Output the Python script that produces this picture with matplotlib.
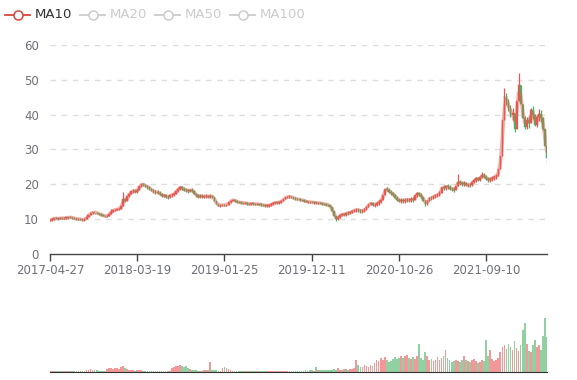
import matplotlib
matplotlib.use('Agg')
import matplotlib.pyplot as plt
import numpy as np
import pandas as pd

# weekly closes (about 5 trading days per entry)
close = [
    9.8, 10.0, 10.3, 10.2, 10.1, 10.4, 10.2, 10.3, 10.5, 10.4,
    10.6, 10.3, 10.2, 10.0, 10.1, 9.9, 9.8, 10.0, 10.6, 11.2,
    11.8, 12.0, 11.9, 11.7, 11.5, 11.2, 11.0, 10.8, 11.0, 11.5,
    12.2, 12.6, 12.7, 12.9, 13.0, 13.8, 15.8, 15.2, 16.6, 17.3,
    18.0, 18.2, 17.9, 18.4, 19.4, 20.1, 19.8, 19.5, 19.2, 18.7,
    18.3, 17.8, 17.9, 17.5, 17.3, 16.6, 17.0, 16.4, 16.3, 16.8,
    17.0, 17.3, 18.0, 18.8, 19.3, 18.7, 18.4, 18.3, 18.1, 18.4,
    18.2, 17.3, 16.8, 16.5, 16.7, 16.4, 16.6, 16.6, 16.4, 16.7,
    16.3, 15.2, 14.3, 13.9, 14.0, 14.1, 14.0, 14.2, 14.8, 15.3,
    15.6, 15.2, 15.0, 14.8, 14.7, 14.6, 14.7, 14.4, 14.3, 14.5,
    14.4, 14.3, 14.4, 14.2, 14.1, 14.0, 13.9, 13.9, 14.0, 14.3,
    14.6, 14.8, 14.7, 14.9, 15.3, 15.8, 16.3, 16.4, 16.5, 16.3,
    16.0, 15.8, 15.7, 15.6, 15.4, 15.3, 15.0, 15.0, 14.9, 14.8,
    14.8, 14.6, 14.7, 14.6, 14.4, 14.3, 14.2, 14.0, 13.6, 12.4,
    10.9, 10.0, 10.6, 11.2, 11.5, 11.3, 11.8, 11.7, 12.0, 12.3,
    12.6, 12.7, 12.5, 12.3, 12.4, 12.8, 13.5, 14.3, 14.6, 14.0,
    14.2, 14.6, 15.0, 15.5, 16.8, 18.7, 18.5, 17.9, 17.4, 17.0,
    16.2, 15.6, 15.3, 15.4, 15.2, 15.5, 15.6, 15.5, 15.7, 15.6,
    16.8, 17.4, 17.0, 16.5, 15.2, 14.4, 15.3, 16.2, 16.0, 16.6,
    16.8, 17.0, 17.6, 19.3, 18.9, 19.4, 19.3, 18.8, 18.6, 18.4,
    19.5, 20.8, 20.3, 20.1, 20.4, 19.7, 19.9, 19.8, 20.6, 21.2,
    21.7, 21.3, 22.0, 22.8, 22.2, 21.6, 21.3, 21.4, 21.9, 22.1,
    22.3, 24.5, 28.0, 38.5, 45.5, 43.5, 42.0, 40.0, 40.4, 36.0,
    44.0, 48.5, 43.0, 39.0, 36.5, 38.5, 37.5, 41.4, 39.8, 37.0,
    39.4, 40.2, 38.9, 36.0, 31.0, 27.5,
]
first_open = 9.6

volume = [
    0.8, 0.7, 0.9, 0.6, 0.8, 0.7, 0.6, 0.9, 0.7, 0.8,
    0.6, 0.7, 0.8, 0.6, 0.7, 0.9, 0.8, 1.0, 2.2, 2.8,
    3.0, 2.5, 2.2, 1.8, 1.5, 1.4, 1.6, 1.5, 3.5, 4.8,
    4.2, 3.8, 5.0, 4.4, 3.6, 5.5, 6.3, 4.5, 3.2, 2.6,
    2.0, 1.8, 1.5, 1.8, 2.4, 2.0, 1.5, 1.3, 1.2, 1.4,
    1.3, 1.2, 1.1, 1.4, 1.2, 1.1, 1.0, 1.2, 1.3, 1.4,
    4.5, 6.0, 7.2, 6.5, 8.0, 7.0, 5.5, 6.8, 4.5, 3.5,
    2.5, 2.0, 1.8, 1.6, 1.5, 1.4, 1.8, 2.2, 2.8, 11.0,
    2.5, 2.0, 1.8, 1.6, 1.5, 4.2, 5.5, 4.8, 3.5, 2.2,
    1.6, 1.4, 1.3, 1.2, 1.5, 1.2, 1.1, 1.3, 1.2, 1.4,
    1.3, 1.2, 1.5, 1.3, 1.2, 1.1, 1.2, 1.4, 1.2, 1.3,
    1.2, 1.1, 1.3, 1.2, 1.1, 1.0, 1.2, 1.3, 1.1, 1.2,
    1.1, 1.0, 1.2, 1.1, 1.3, 1.5, 1.7, 1.6, 1.8, 2.0,
    1.6, 5.2, 1.8, 2.2, 2.4, 2.0, 2.6, 2.3, 2.8, 2.5,
    3.0, 2.8, 5.0, 2.6, 2.4, 2.9, 3.2, 2.8, 3.4, 3.8,
    4.5, 13.0, 7.5, 6.0, 5.2, 7.8, 6.5, 5.8, 8.2, 7.0,
    10.5, 13.5, 12.0, 15.5, 14.0, 16.5, 13.0, 11.5, 12.5, 15.0,
    17.0, 14.5, 16.0, 18.5, 15.5, 17.5, 19.5, 16.0, 14.5, 17.0,
    15.0, 18.0, 31.0, 16.0, 14.0, 22.0, 17.5, 13.5, 15.0, 12.5,
    14.0, 16.5, 13.0, 15.5, 18.0, 25.0, 16.0, 13.0, 11.5, 12.5,
    14.0, 12.0, 11.0, 13.5, 18.0, 14.0, 12.5, 11.0, 13.0, 15.0,
    12.0, 10.5, 11.5, 13.0, 12.0, 36.0, 18.0, 25.0, 15.0, 12.0,
    13.5, 16.0, 22.0, 28.0, 30.0, 26.0, 31.0, 28.0, 25.0, 35.0,
    27.0, 24.0, 30.0, 47.0, 55.0, 32.0, 24.0, 22.0, 30.0, 36.0,
    28.0, 30.0, 25.0, 40.0, 61.0, 39.0,
]

# typical weekly high-low range, read from the band thickness: (first, last, range)
week_range = [(0, 35, 0.6), (36, 80, 1.1), (81, 138, 0.7), (139, 160, 1.0),
              (161, 200, 1.3), (201, 221, 1.3), (222, 245, 3.5)]

# notable wicks visible on the chart
wick_high = {18: 11.5, 22: 11.6, 30: 12.8, 36: 17.8, 201: 23.0, 213: 23.4,
             224: 47.6, 231: 51.9, 237: 42.0}
wick_low = {141: 9.5, 185: 13.8, 229: 35.0, 245: 25.8}

tick_labels = ['2017-04-27', '2018-03-19', '2019-01-25', '2019-12-11',
               '2020-10-26', '2021-09-10']
tick_pos = [0, 43, 86, 129, 172, 215]

legend_names = ['MA10', 'MA20', 'MA50', 'MA100']

UP = '#eb5454'
DOWN = '#47b262'
LABEL = '#6e7079'

assert len(close) == len(volume)
n = len(close)
x = np.arange(n)
close_a = np.array(close)
open_a = np.concatenate([[first_open], close_a[:-1]])
up = close_a >= open_a
colors = np.where(up, UP, DOWN)

rng = np.zeros(n)
for a, b, r in week_range:
    rng[a:b + 1] = r
mid = (open_a + close_a) / 2
high = np.maximum(np.maximum(open_a, close_a), mid + rng / 2)
low = np.minimum(np.minimum(open_a, close_a), mid - rng / 2)
for k, v in wick_high.items():
    high[k] = v
for k, v in wick_low.items():
    low[k] = v

# one entry ~ one week, so a 2-entry mean ~ 10 trading days
ma10 = pd.Series(close).rolling(2, min_periods=1).mean()

W, H = 577, 380
fig = plt.figure(figsize=(W / 100, H / 100), dpi=100)
fig.patch.set_facecolor('white')

def frac(x0, y0, x1, y1):
    return [x0 / W, 1 - y1 / H, (x1 - x0) / W, (y1 - y0) / H]

# ---- price panel
ax = fig.add_axes(frac(50, 45, 547, 254))
ax.set_xlim(0, n - 1)
ax.set_ylim(0, 60)
ax.set_yticks(range(0, 61, 10))
for yv in range(10, 61, 10):
    ax.axhline(yv, color='#dddddd', lw=1, ls=(0, (4, 4)), zorder=0)
body_h = np.maximum(np.abs(close_a - open_a), 0.12)
ax.vlines(x, low, high, colors=colors, lw=0.9, zorder=2)
ax.bar(x, body_h, bottom=np.minimum(open_a, close_a), width=0.75,
       color=colors, edgecolor=colors, linewidth=0.3, zorder=2)
ax.plot(x, ma10, color='#e2604f', lw=2.6, alpha=0.45, zorder=3,
        solid_capstyle='round')
for s in ['top', 'right', 'left']:
    ax.spines[s].set_visible(False)
ax.spines['bottom'].set_color('#444444')
ax.spines['bottom'].set_linewidth(1)
ax.set_xticks(tick_pos)
ax.set_xticklabels(tick_labels)
ax.tick_params(axis='x', colors='#444444', labelcolor=LABEL, length=5, width=1,
               labelsize=8.5, pad=2)
ax.tick_params(axis='y', length=0, labelcolor=LABEL, labelsize=8.5, pad=8)
ax.set_facecolor('none')

# ---- volume panel
axv = fig.add_axes(frac(50, 300, 547, 372))
axv.set_xlim(0, n - 1)
axv.set_ylim(0, 81)
axv.bar(x, volume, width=0.85, color=colors, alpha=0.6, linewidth=0)
for s in ['top', 'right', 'left']:
    axv.spines[s].set_visible(False)
axv.spines['bottom'].set_color('#333333')
axv.set_xticks([])
axv.set_yticks([])
axv.set_facecolor('none')

# ---- legend (pixel coordinates overlay)
lg = fig.add_axes([0, 0, 1, 1])
lg.set_xlim(0, W)
lg.set_ylim(H, 0)
lg.axis('off')
lg.patch.set_alpha(0)
starts = [5, 80, 155, 230]
for i, (name, x0) in enumerate(zip(legend_names, starts)):
    c = '#d9463a' if i == 0 else '#cccccc'
    tc = '#333333' if i == 0 else '#cccccc'
    lg.plot([x0, x0 + 25], [15, 15], color=c, lw=1.3)
    lg.plot([x0 + 12.5], [15], marker='o', ms=6.5, mfc='white', mec=c, mew=1.1)
    lg.text(x0 + 30, 15, name, color=tc, fontsize=9.5, va='center', ha='left')

plt.savefig('out.png', dpi=100, facecolor='white')
